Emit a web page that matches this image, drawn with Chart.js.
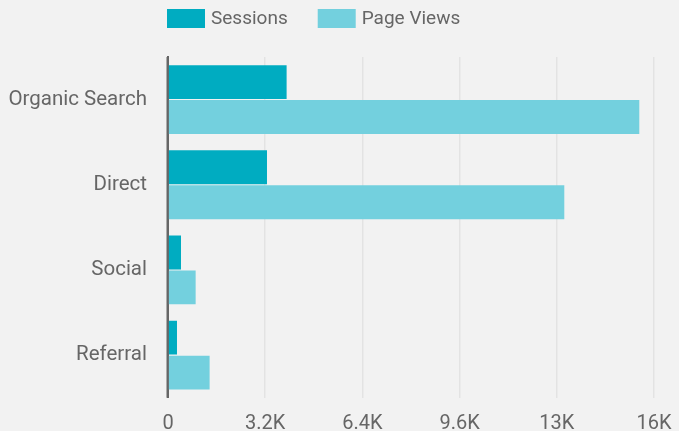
<!DOCTYPE html>
<html>
<head>
<meta charset="utf-8">
<script src="https://cdn.jsdelivr.net/npm/chart.js@4"></script>
<style>
  html, body { margin: 0; padding: 0; background: #f2f2f2; }
  #wrap { width: 679px; height: 431px; }
</style>
</head>
<body>
<div id="wrap"><canvas id="chart" width="679" height="431"></canvas></div>
<script>
// Traffic by channel
const channels = ['Organic Search', 'Direct', 'Social', 'Referral'];
const sessions = [3905, 3259, 428, 296];
const pageViews = [15516, 13047, 910, 1370];
const xTickLabels = ['0', '3.2K', '6.4K', '9.6K', '13K', '16K'];

const TEXT = '#666666';
const FONT = 'Roboto, "Noto Sans", sans-serif';

// Canvas background
const background = {
  id: 'background',
  beforeDraw(chart) {
    const ctx = chart.ctx;
    ctx.save();
    ctx.fillStyle = '#f2f2f2';
    ctx.fillRect(0, 0, chart.width, chart.height);
    ctx.restore();
  }
};

// Legend row aligned with the left edge of the plot area
const topLegend = {
  id: 'topLegend',
  afterDraw(chart) {
    const ctx = chart.ctx;
    const area = chart.chartArea;
    ctx.save();
    ctx.font = '19px ' + FONT;
    ctx.textBaseline = 'middle';
    ctx.textAlign = 'left';
    let x = area.left - 1;
    const y = 9, boxW = 38, boxH = 19;
    chart.data.datasets.forEach(ds => {
      ctx.fillStyle = ds.backgroundColor;
      ctx.fillRect(x, y, boxW, boxH);
      ctx.fillStyle = TEXT;
      ctx.fillText(ds.label, x + boxW + 6, y + boxH / 2 + 0.5);
      x += boxW + 6 + ctx.measureText(ds.label).width + 30;
    });
    ctx.restore();
  }
};

// Redraw the category axis line on top of the bars
const axisOnTop = {
  id: 'axisOnTop',
  afterDatasetsDraw(chart) {
    const ctx = chart.ctx;
    const area = chart.chartArea;
    const x0 = chart.scales.x.getPixelForValue(0);
    ctx.save();
    ctx.strokeStyle = '#666666';
    ctx.lineWidth = 2;
    ctx.beginPath();
    ctx.moveTo(x0 - 0.5, area.top);
    ctx.lineTo(x0 - 0.5, area.bottom);
    ctx.stroke();
    ctx.restore();
  }
};

new Chart(document.getElementById('chart'), {
  type: 'bar',
  data: {
    labels: channels,
    datasets: [
      { label: 'Sessions', data: sessions, backgroundColor: '#00acc1' },
      { label: 'Page Views', data: pageViews, backgroundColor: '#73d0de' }
    ]
  },
  options: {
    indexAxis: 'y',
    responsive: false,
    animation: false,
    devicePixelRatio: 1,
    layout: { padding: { top: 57, right: 25, left: 0, bottom: 0 } },
    datasets: {
      bar: { categoryPercentage: 0.82, barPercentage: 0.97, borderWidth: 0 }
    },
    plugins: {
      legend: { display: false },
      tooltip: { enabled: false }
    },
    scales: {
      x: {
        min: 0,
        max: 16000,
        ticks: {
          stepSize: 3200,
          color: TEXT,
          font: { family: FONT, size: 20 },
          padding: 14,
          maxRotation: 0,
          callback: (v, i) => xTickLabels[i]
        },
        grid: { color: '#e3e3e3', lineWidth: 1.5, drawTicks: false },
        border: { display: false },
        afterFit(scale) {
          scale.height = 33;
          scale.paddingLeft = 0;
          scale.paddingRight = 25;
        }
      },
      y: {
        ticks: {
          color: TEXT,
          font: { family: FONT, size: 20.5 },
          padding: 21
        },
        grid: { display: false, drawTicks: false },
        border: { display: true, color: '#666666', width: 2 },
        afterFit(scale) { scale.width = 168; }
      }
    }
  },
  plugins: [background, topLegend, axisOnTop]
});
</script>
</body>
</html>
